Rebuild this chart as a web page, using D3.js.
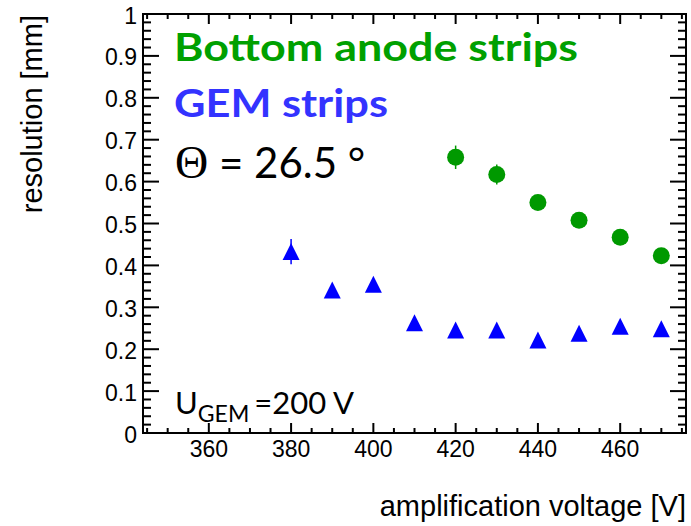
<!DOCTYPE html>
<html>
<head>
<meta charset="utf-8">
<script src="https://cdn.jsdelivr.net/npm/d3@7"></script>
<style>
  html, body { margin: 0; padding: 0; background: #fff; }
  svg { display: block; }
</style>
</head>
<body>
<svg id="chart" width="691" height="526"></svg>
<script>
// Amplification voltage scan, resolution per readout plane
const anodeVoltage = [420, 430, 440, 450, 460, 470];
const anodeResolution = [0.658, 0.617, 0.550, 0.508, 0.467, 0.423];
const anodeError = [0.028, 0.024, 0.015, 0.015, 0.015, 0.015];

const gemVoltage = [380, 390, 400, 410, 420, 430, 440, 450, 460, 470];
const gemResolution = [0.433, 0.341, 0.355, 0.263, 0.246, 0.246, 0.222, 0.238, 0.255, 0.249];
const gemError = [0.030, 0.012, 0.012, 0.012, 0.012, 0.012, 0.012, 0.012, 0.012, 0.012];

const xMajorTicks = [360, 380, 400, 420, 440, 460];
const yMajorTicks = [0, 0.1, 0.2, 0.3, 0.4, 0.5, 0.6, 0.7, 0.8, 0.9, 1];
const yTickLabels = ["0", "0.1", "0.2", "0.3", "0.4", "0.5", "0.6", "0.7", "0.8", "0.9", "1"];

const green = "#009900";
const greenText = "#00a000";
const blueMarker = "#0000ff";
const blueText = "#3333ff";

const svg = d3.select("#chart");
const frame = { left: 143, right: 686, top: 14, bottom: 433 };

const x = d3.scaleLinear().domain([344, 476]).range([frame.left, frame.right]);
const y = d3.scaleLinear().domain([0, 1]).range([frame.bottom, frame.top]);

const axisFont = "'Liberation Sans', Arial, Helvetica, sans-serif";
const legendFont = "Lato, 'Open Sans', sans-serif";

// minor tick positions
const xMinor = d3.range(345, 476, 5).filter(v => !xMajorTicks.includes(v));
const yMinor = d3.range(0, 51).map(i => i / 50).filter(v => Math.abs(v * 10 - Math.round(v * 10)) > 1e-6);

const axes = svg.append("g").attr("stroke", "#000").attr("stroke-width", 2);

// frame
axes.append("rect")
  .attr("x", frame.left).attr("y", frame.top)
  .attr("width", frame.right - frame.left).attr("height", frame.bottom - frame.top)
  .attr("fill", "none");

function xTicks(values, len) {
  values.forEach(v => {
    axes.append("line").attr("x1", x(v)).attr("x2", x(v))
      .attr("y1", frame.bottom).attr("y2", frame.bottom - len);
    axes.append("line").attr("x1", x(v)).attr("x2", x(v))
      .attr("y1", frame.top).attr("y2", frame.top + len);
  });
}
function yTicks(values, len) {
  values.forEach(v => {
    axes.append("line").attr("y1", y(v)).attr("y2", y(v))
      .attr("x1", frame.left).attr("x2", frame.left + len);
    axes.append("line").attr("y1", y(v)).attr("y2", y(v))
      .attr("x1", frame.right).attr("x2", frame.right - len);
  });
}
xTicks(xMajorTicks, 10);
xTicks(xMinor, 5);
yTicks(yMajorTicks, 16);
yTicks(yMinor, 8);

// tick labels
svg.append("g").selectAll("text").data(xMajorTicks).join("text")
  .attr("x", d => x(d)).attr("y", 457)
  .attr("text-anchor", "middle")
  .attr("font-family", axisFont).attr("font-size", 23)
  .text(d => d);

svg.append("g").selectAll("text").data(yMajorTicks).join("text")
  .attr("x", 137).attr("y", d => y(d) + 9.5)
  .attr("text-anchor", "end")
  .attr("font-family", axisFont).attr("font-size", 23)
  .text((d, i) => yTickLabels[i]);

// axis titles
svg.append("text")
  .attr("x", 686).attr("y", 516)
  .attr("text-anchor", "end")
  .attr("font-family", axisFont).attr("font-size", 29)
  .text("amplification voltage [V]");

svg.append("text")
  .attr("transform", "translate(42,15) rotate(-90)")
  .attr("text-anchor", "end")
  .attr("font-family", axisFont).attr("font-size", 29)
  .text("resolution [mm]");

// error bars
const anode = anodeVoltage.map((v, i) => ({ v, r: anodeResolution[i], e: anodeError[i] }));
const gem = gemVoltage.map((v, i) => ({ v, r: gemResolution[i], e: gemError[i] }));

svg.append("g").selectAll("line").data(anode).join("line")
  .attr("x1", d => x(d.v)).attr("x2", d => x(d.v))
  .attr("y1", d => y(d.r + d.e)).attr("y2", d => y(d.r - d.e))
  .attr("stroke", green).attr("stroke-width", 1.5);
svg.append("g").selectAll("line").data(gem).join("line")
  .attr("x1", d => x(d.v)).attr("x2", d => x(d.v))
  .attr("y1", d => y(d.r + d.e)).attr("y2", d => y(d.r - d.e))
  .attr("stroke", blueMarker).attr("stroke-width", 1.5);

// markers
svg.append("g").selectAll("circle").data(anode).join("circle")
  .attr("cx", d => x(d.v)).attr("cy", d => y(d.r)).attr("r", 8.5)
  .attr("fill", green);

const tri = 8.5;
svg.append("g").selectAll("path").data(gem).join("path")
  .attr("d", d => {
    const cx = x(d.v), cy = y(d.r);
    return `M${cx - tri},${cy + tri}L${cx + tri},${cy + tri}L${cx},${cy - tri}Z`;
  })
  .attr("fill", blueMarker);

// legend texts
svg.append("text")
  .attr("x", 174).attr("y", 61)
  .attr("font-family", legendFont).attr("font-weight", 700).attr("font-size", 39)
  .attr("textLength", 404).attr("lengthAdjust", "spacingAndGlyphs")
  .attr("fill", greenText)
  .text("Bottom anode strips");

svg.append("text")
  .attr("x", 174).attr("y", 117)
  .attr("font-family", legendFont).attr("font-weight", 700).attr("font-size", 39)
  .attr("textLength", 214).attr("lengthAdjust", "spacingAndGlyphs")
  .attr("fill", blueText)
  .text("GEM strips");

const theta = svg.append("text")
  .attr("x", 175).attr("y", 178)
  .attr("font-family", legendFont).attr("font-size", 42)
  .attr("fill", "#000");
theta.append("tspan").attr("font-family", "'Liberation Serif', 'DejaVu Serif', serif").attr("font-size", 46).text("Θ");
theta.append("tspan").text(" = 26.5 °");

const ugem = svg.append("text")
  .attr("x", 175).attr("y", 414)
  .attr("font-family", legendFont).attr("font-size", 31)
  .attr("fill", "#000");
ugem.append("tspan").text("U");
ugem.append("tspan").attr("font-size", 23).attr("dy", 8).text("GEM");
ugem.append("tspan").attr("dy", -8).attr("dx", 5).text("=200 V");
</script>
</body>
</html>
